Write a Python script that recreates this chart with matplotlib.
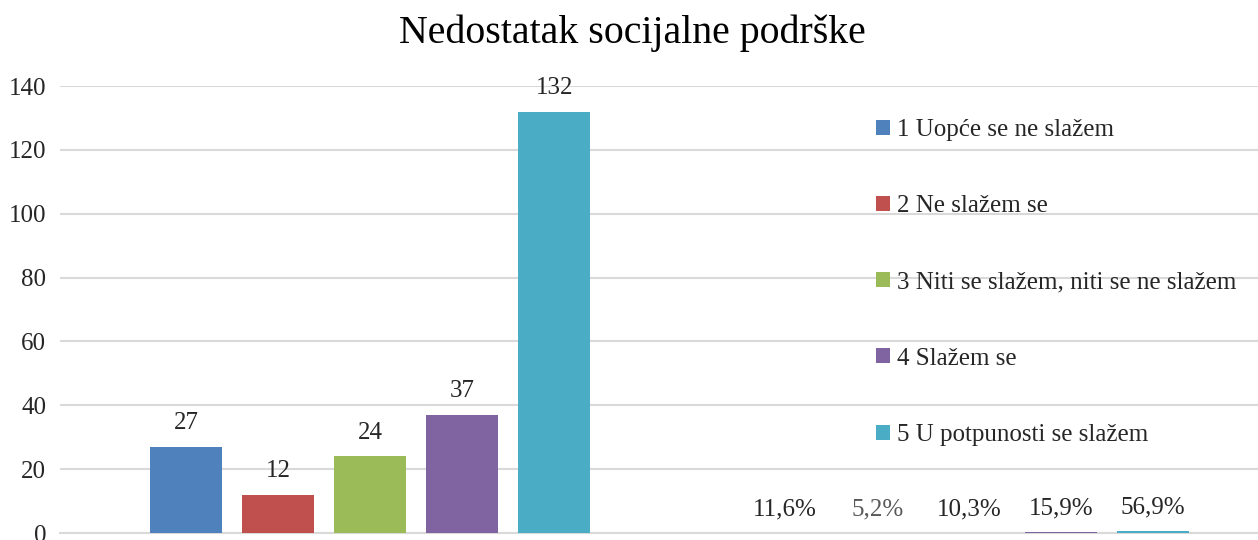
import matplotlib.pyplot as plt
import numpy as np

# data
categories = ["Broj", "Postotak"]
labels = ["1 Uopće se ne slažem", "2 Ne slažem se",
          "3 Niti se slažem, niti se ne slažem", "4 Slažem se",
          "5 U potpunosti se slažem"]
counts = [27, 12, 24, 37, 132]
shares = [0.116, 0.052, 0.103, 0.159, 0.569]
share_text = ["11,6%", "5,2%", "10,3%", "15,9%", "56,9%"]
colors = ["#4f81bd", "#c0504d", "#9bbb59", "#8064a2", "#4bacc6"]
pct_colors = ["#262626", "#595959", "#262626", "#262626", "#262626"]

plt.rcParams['font.family'] = ['Liberation Serif', 'DejaVu Serif']

fig = plt.figure(figsize=(12.58, 5.40), dpi=100)
ax = fig.add_axes([60/1258, 7/540, 1 - 60/1258, (533-86)/540])

x = np.arange(len(categories))
step = 0.1536
width = 0.12
for i in range(len(labels)):
    vals = [counts[i], shares[i]]
    bars = ax.bar(x + (i - 2) * step, vals, width, color=colors[i],
                  label=labels[i], zorder=3)
    ax.annotate(str(counts[i]), (bars[0].get_x() + width/2, counts[i]),
                xytext=(0, 17), textcoords="offset points",
                ha="center", va="center", fontsize=18, color="#262626")
    ax.annotate(share_text[i], (bars[1].get_x() + width/2, shares[i]),
                xytext=(0, 17), textcoords="offset points",
                ha="center", va="center", fontsize=18, color=pct_colors[i])

ax.set_ylim(0, 140)
ax.set_xlim(-0.5175, 1.482)
ax.set_yticks(range(0, 141, 20))
ax.set_xticks([])
ax.tick_params(axis="y", length=0, labelsize=18, colors="#262626", pad=10)
ax.grid(axis="y", color="#d9d9d9", linewidth=1.5, zorder=0)
for s in ["top", "right", "left"]:
    ax.spines[s].set_visible(False)
ax.spines["bottom"].set_color("#d9d9d9")
ax.spines["bottom"].set_linewidth(1.5)

fig.text(632/1258, 1 - 33/540, "Nedostatak socijalne podrške",
         ha="center", va="center", fontsize=28.7, color="#000000")

leg = ax.legend(loc="upper left", bbox_to_anchor=(876/1258, 1 - 119/540),
                bbox_transform=fig.transFigure, frameon=False, fontsize=18,
                handlelength=0.55, handleheight=0.55, handletextpad=0.3,
                labelspacing=2.17, borderaxespad=0, borderpad=0)
for t in leg.get_texts():
    t.set_color("#262626")

fig.savefig("out.png", dpi=100)
